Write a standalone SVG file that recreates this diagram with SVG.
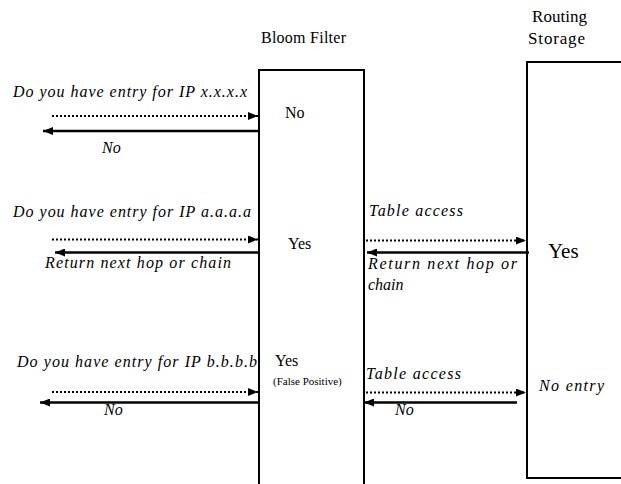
<svg xmlns="http://www.w3.org/2000/svg" width="621" height="484" viewBox="0 0 621 484">
<defs>
<marker id="ah" viewBox="0 0 10 8" refX="10" refY="4" markerUnits="userSpaceOnUse" markerWidth="10" markerHeight="8" orient="auto">
<path d="M0,0 L10,4 L0,8 Z" fill="#000"/>
</marker>
</defs>
<rect width="621" height="484" fill="#fff"/>
<g id="bloom-filter">
<path d="M259,485 V70 H364 V485" fill="#fff" stroke="#000" stroke-width="2"/>
<text x="261" y="43" textLength="85" style="font-family:'Liberation Serif',serif !important;font-size:16px">Bloom Filter</text>
<text x="285" y="118" style="font-family:'Liberation Serif',serif !important;font-size:16px">No</text>
<text x="288" y="249" style="font-family:'Liberation Serif',serif !important;font-size:16px">Yes</text>
<text x="275" y="366" style="font-family:'Liberation Serif',serif !important;font-size:16px">Yes</text>
<text x="273" y="385" style="font-family:'Liberation Serif',serif !important;font-size:11px">(False Positive)</text>
</g>
<g id="routing-storage">
<rect x="527" y="62" width="96" height="416" fill="#fff" stroke="#000" stroke-width="2"/>
<text x="532" y="22" textLength="55" style="font-family:'Liberation Serif',serif !important;font-size:17px">Routing</text>
<text x="528" y="44" textLength="57" style="font-family:'Liberation Serif',serif !important;font-size:17px">Storage</text>
<text x="548" y="258" style="font-family:'Liberation Serif',serif !important;font-size:21px">Yes</text>
<text x="539" y="391" textLength="65" style="font-family:'Liberation Serif',serif !important;font-size:16px;font-style:italic">No entry</text>
</g>
<g id="connectors" stroke="#000" fill="none">
<g stroke-width="2.2" stroke-dasharray="2 2">
<line x1="52" y1="116" x2="258" y2="116" marker-end="url(#ah)"/>
<line x1="52" y1="239.5" x2="258" y2="239.5" marker-end="url(#ah)"/>
<line x1="366" y1="240.5" x2="526" y2="240.5" marker-end="url(#ah)"/>
<line x1="52" y1="392" x2="258" y2="392" marker-end="url(#ah)"/>
<line x1="366" y1="392.5" x2="526" y2="392.5" marker-end="url(#ah)"/>
</g>
<g stroke-width="2.5">
<line x1="259" y1="131" x2="43" y2="131" marker-end="url(#ah)"/>
<line x1="259" y1="252.5" x2="55" y2="252.5" marker-end="url(#ah)"/>
<line x1="529" y1="252.5" x2="367" y2="252.5" marker-end="url(#ah)"/>
<line x1="259" y1="402.5" x2="40" y2="402.5" marker-end="url(#ah)"/>
<line x1="517" y1="402.5" x2="364" y2="402.5" marker-end="url(#ah)"/>
</g>
</g>
<g id="labels">
<text x="13" y="97" textLength="234" style="font-family:'Liberation Serif',serif !important;font-size:16px;font-style:italic">Do you have entry for IP x.x.x.x</text>
<text x="102" y="153" style="font-family:'Liberation Serif',serif !important;font-size:16px;font-style:italic">No</text>
<text x="13" y="217" textLength="238" style="font-family:'Liberation Serif',serif !important;font-size:16px;font-style:italic">Do you have entry for IP a.a.a.a</text>
<text x="45" y="268" textLength="186" style="font-family:'Liberation Serif',serif !important;font-size:16px;font-style:italic">Return next hop or chain</text>
<text x="369" y="216" textLength="94" style="font-family:'Liberation Serif',serif !important;font-size:16px;font-style:italic">Table access</text>
<text x="368" y="269" textLength="149" style="font-family:'Liberation Serif',serif !important;font-size:16px;font-style:italic">Return next hop or</text>
<text x="368" y="290" style="font-family:'Liberation Serif',serif !important;font-size:16px;font-style:italic">chain</text>
<text x="17" y="367" textLength="240" style="font-family:'Liberation Serif',serif !important;font-size:16px;font-style:italic">Do you have entry for IP b.b.b.b</text>
<text x="104" y="415" style="font-family:'Liberation Serif',serif !important;font-size:16px;font-style:italic">No</text>
<text x="366" y="379" textLength="95" style="font-family:'Liberation Serif',serif !important;font-size:16px;font-style:italic">Table access</text>
<text x="395" y="415" style="font-family:'Liberation Serif',serif !important;font-size:16px;font-style:italic">No</text>
</g>
</svg>
